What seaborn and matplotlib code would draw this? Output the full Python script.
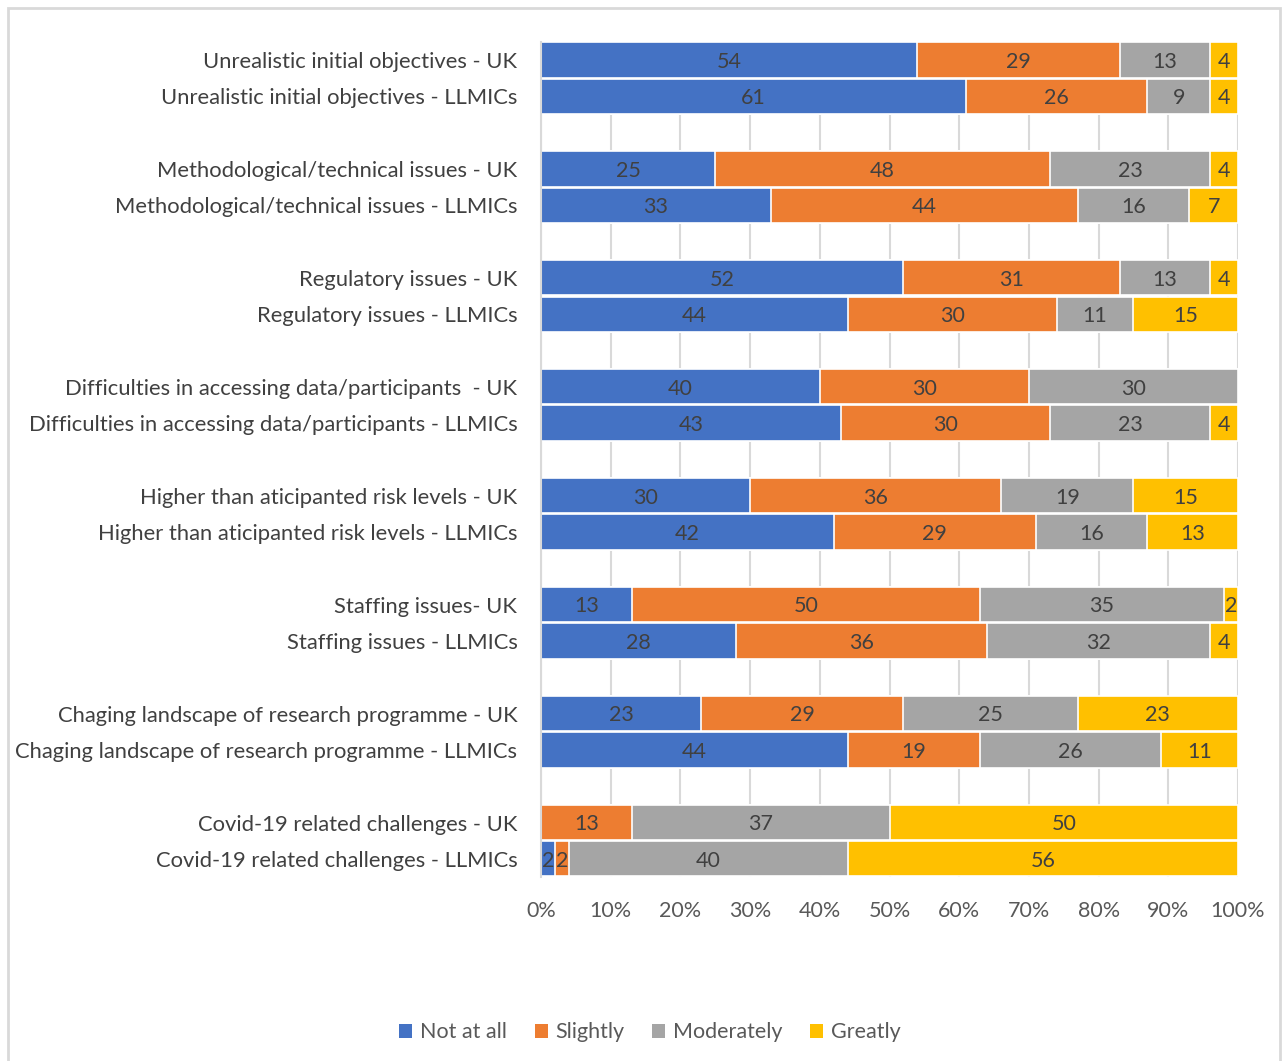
import matplotlib
matplotlib.use("Agg")
import matplotlib.pyplot as plt
import seaborn as sns
import pandas as pd
from matplotlib.patches import Rectangle, Patch
from matplotlib.ticker import FuncFormatter

# Survey responses (% of respondents) per challenge and region
categories = [
    "Unrealistic initial objectives - UK",
    "Unrealistic initial objectives - LLMICs",
    "Methodological/technical issues - UK",
    "Methodological/technical issues - LLMICs",
    "Regulatory issues - UK",
    "Regulatory issues - LLMICs",
    "Difficulties in accessing data/participants  - UK",
    "Difficulties in accessing data/participants - LLMICs",
    "Higher than aticipanted risk levels - UK",
    "Higher than aticipanted risk levels - LLMICs",
    "Staffing issues- UK",
    "Staffing issues - LLMICs",
    "Chaging landscape of research programme - UK",
    "Chaging landscape of research programme - LLMICs",
    "Covid-19 related challenges - UK",
    "Covid-19 related challenges - LLMICs",
]
not_at_all = [54, 61, 25, 33, 52, 44, 40, 43, 30, 42, 13, 28, 23, 44, 0, 2]
slightly = [29, 26, 48, 44, 31, 30, 30, 30, 36, 29, 50, 36, 29, 19, 13, 2]
moderately = [13, 9, 23, 16, 13, 11, 30, 23, 19, 16, 35, 32, 25, 26, 37, 40]
greatly = [4, 4, 4, 7, 4, 15, 0, 4, 15, 13, 2, 4, 23, 11, 50, 56]

series_names = ["Not at all", "Slightly", "Moderately", "Greatly"]
series_colors = ["#4472C4", "#ED7D31", "#A5A5A5", "#FFC000"]

df = pd.DataFrame({
    "label": categories,
    "Not at all": not_at_all,
    "Slightly": slightly,
    "Moderately": moderately,
    "Greatly": greatly,
})
cum = df[series_names].cumsum(axis=1)
for name in series_names:
    df["end_" + name] = cum[name]

# Category order with an empty slot between each UK/LLMICs pair
order = []
for i in range(0, len(categories), 2):
    order += [categories[i], categories[i + 1]]
    if i + 2 < len(categories):
        order.append(" " * (i // 2 + 1))

sns.set_theme(style="white")
plt.rcParams["font.family"] = ["Lato", "DejaVu Sans"]

fig = plt.figure(figsize=(12.82, 10.61), dpi=100)
ax = fig.add_axes([0.422, 0.1734, 0.5437, 0.7872])

ax.set_axisbelow(True)
ax.xaxis.grid(True, color="#D9D9D9", linewidth=1.5)

# Stacked bars: draw cumulative totals from the outermost segment inward
for name, col in reversed(list(zip(series_names, series_colors))):
    sns.barplot(data=df, x="end_" + name, y="label", order=order, orient="h",
                color=col, saturation=1, width=0.97, errorbar=None,
                edgecolor="white", linewidth=1.2, ax=ax)

# Value labels in the middle of each segment
pos = {c: order.index(c) for c in categories}
for name in series_names:
    for _, row in df.iterrows():
        v = row[name]
        if v > 0:
            xc = row["end_" + name] - v / 2
            ax.text(xc, pos[row["label"]] + 0.05, f"{v}", ha="center", va="center",
                    fontsize=15.5, color="#404040")

ax.set_xlim(0, 100)
ax.set_xticks(range(0, 101, 10))
ax.xaxis.set_major_formatter(FuncFormatter(lambda v, p: f"{int(v)}%"))
ax.set_xlabel("")
ax.set_ylabel("")
ax.tick_params(axis="x", length=0, pad=17, labelsize=15.5, labelcolor="#595959")
ax.tick_params(axis="y", length=0, pad=17, labelsize=15.8, labelcolor="#404040")
for s in ["top", "right", "bottom"]:
    ax.spines[s].set_visible(False)
ax.spines["left"].set_color("#D9D9D9")
ax.spines["left"].set_linewidth(1.5)

handles = [Patch(facecolor=c, edgecolor="none", label=n)
           for n, c in zip(series_names, series_colors)]
fig.legend(handles=handles, loc="center", bbox_to_anchor=(0.507, 0.027), ncol=4,
           frameon=False, fontsize=15.5, labelcolor="#595959",
           handlelength=0.6, handleheight=0.6, handletextpad=0.35,
           columnspacing=1.3)

# Chart area border
fig.patches.append(Rectangle((8 / 1282, -0.01), 1272 / 1282, 1 - 8 / 1061 + 0.01,
                             transform=fig.transFigure, fill=False,
                             edgecolor="#D9D9D9", linewidth=2))

fig.savefig("out.png", dpi=100)
